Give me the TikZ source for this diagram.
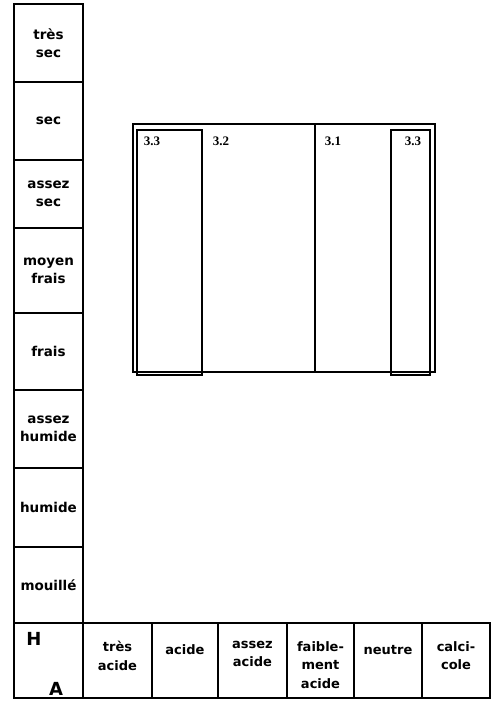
\documentclass[tikz,border=0pt]{standalone}
\usepackage{fontspec}
\newfontfamily\cellfont{DejaVu Sans}
\newfontfamily\zonefont{Liberation Serif}

\tikzset{
  grid/.style={line width=1.4pt},
  unit/.style={line width=1.2pt},
  cell/.style={font=\cellfont\bfseries\fontsize{13.5}{18}\selectfont, align=center, inner sep=0pt},
  ph/.style={cell, font=\cellfont\bfseries\fontsize{13}{18.5}\selectfont, anchor=north, execute at begin node=\strut},
  axis/.style={font=\cellfont\bfseries\fontsize{18}{20}\selectfont, inner sep=0pt},
  zone/.style={font=\zonefont\bfseries\fontsize{13}{14}\selectfont, inner sep=0pt},
}

\begin{document}
\begin{tikzpicture}[x=1pt,y=-1pt]
  \useasboundingbox (0,0) rectangle (492,701);

  % Humidity scale (left column)
  \foreach \ya/\yb/\txt [count=\i] in {4/82/{très\\sec}, 82/160/sec, 160/228/{assez\\sec},
      228/313/{moyen\\frais}, 313/390/frais, 390/468/{assez\\humide}, 468/547/humide, 547/623/mouillé}{
    \draw[grid] (14,\ya) rectangle (83,\yb);
    \node[cell] (hum\i) at (48.5,{(\ya+\yb)/2}) {\txt};
  }

  % Corner cell
  \draw[grid] (14,623) rectangle (83,698);
  \node[axis] (H) at (34,639) {H};
  \node[axis] (A) at (56,689) {A};

  % Acidity scale (bottom row)
  \foreach \xa/\xb/\txt [count=\i] in {83/152/{très\\acide}, 152/218/acide, 218/287/{assez\\acide},
      287/354/{faible-\\ment\\acide}, 354/422/neutre, 422/490/{calci-\\cole}}{
    \draw[grid] (\xa,623) rectangle (\xb,698);
    \node[ph] (ac\i) at ({(\xa+\xb)/2},641) {\txt};
  }

  % Vegetation units
  \draw[unit] (133,124) rectangle (435,372);
  \draw[unit] (137,130) rectangle (202,375);
  \draw[unit] (391,130) rectangle (430,375);
  \draw[unit] (315,124) -- (315,372);

  \node[zone] (u33a) at (152,141) {3.3};
  \node[zone] (u32) at (221,141) {3.2};
  \node[zone] (u31) at (333,141) {3.1};
  \node[zone] (u33b) at (413,141) {3.3};
\end{tikzpicture}
\end{document}
